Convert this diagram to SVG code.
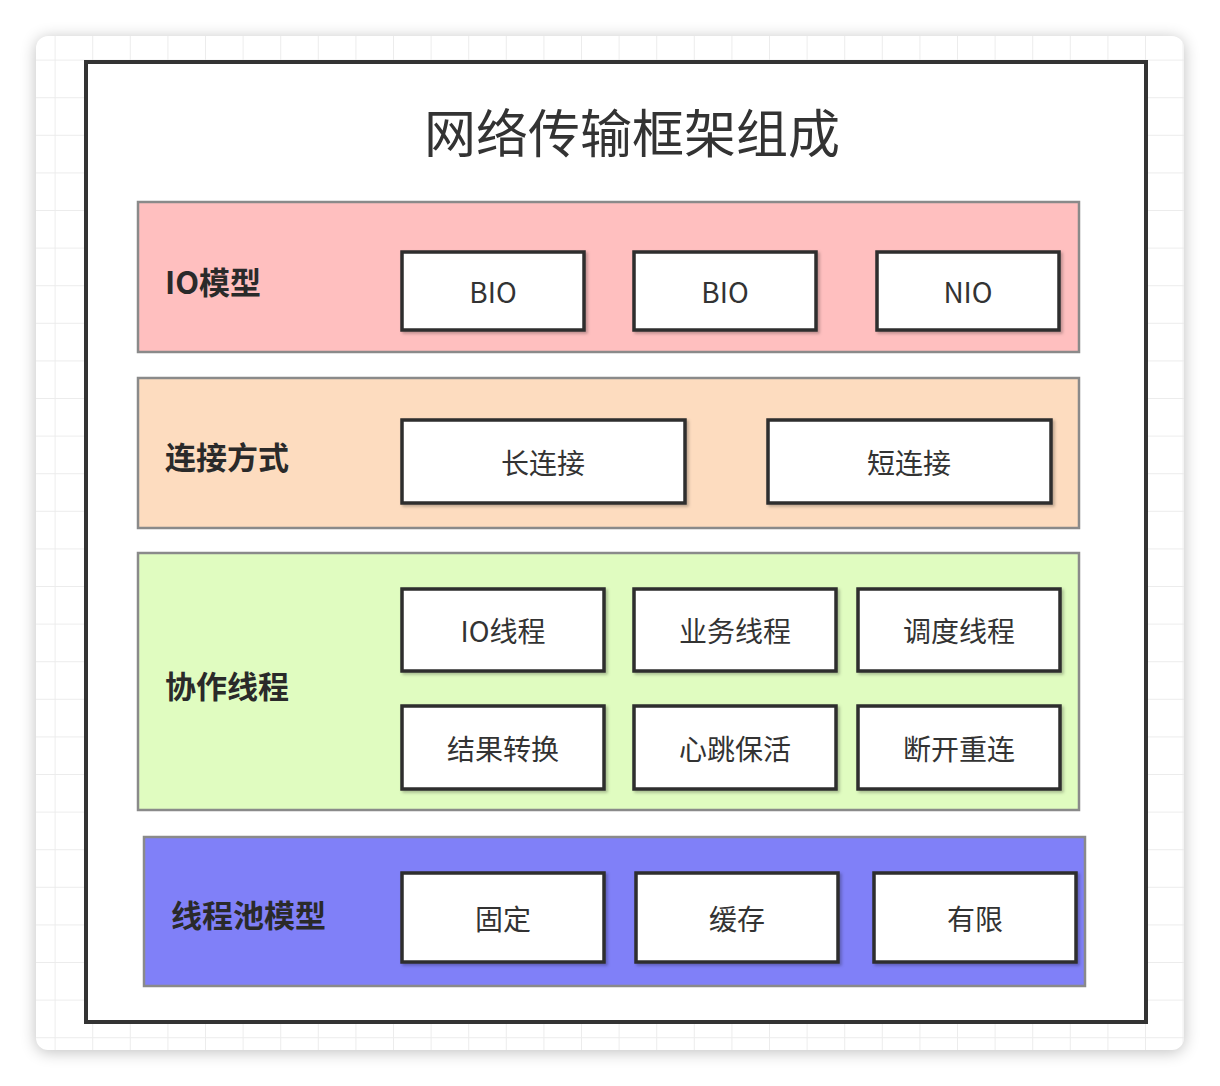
<svg xmlns="http://www.w3.org/2000/svg" width="1220" height="1086" viewBox="0 0 1220 1086">
<defs>
<pattern id="grid" x="18" y="23" width="37.6" height="37.6" patternUnits="userSpaceOnUse">
<path d="M37.6 0V37.6M0 37.6H37.6" fill="none" stroke="#ececec" stroke-width="2"/>
</pattern>
<filter id="sh" x="-10%" y="-10%" width="120%" height="120%"><feGaussianBlur stdDeviation="8"/></filter>
<filter id="bs" x="-5%" y="-5%" width="115%" height="120%"><feDropShadow dx="2" dy="2" stdDeviation="1.5" flood-color="#000" flood-opacity="0.25"/></filter>
<style>
.layer{stroke:#8a8a8a;stroke-width:2.5}
.box rect{fill:#fff;stroke:#2e2e2e;stroke-width:3.5;filter:url(#bs)}
.box text{font-family:"Noto Sans CJK SC","Noto Sans",sans-serif;font-size:28px;fill:#333;text-anchor:middle;dominant-baseline:central}
.lbl{font-family:"Noto Sans CJK SC","Noto Sans",sans-serif;font-size:31px;font-weight:bold;fill:#2a2a2a;dominant-baseline:central}
</style>
</defs>
<rect width="1220" height="1086" fill="#fff"/>
<rect x="36" y="38" width="1148" height="1014" rx="12" fill="#000" opacity="0.25" filter="url(#sh)"/>
<rect x="36" y="36" width="1148" height="1014" rx="12" fill="#fff"/>
<rect x="36" y="36" width="1148" height="1014" rx="12" fill="url(#grid)"/>
<g id="frame">
<rect x="86" y="62" width="1060" height="960" fill="#fff" stroke="#333" stroke-width="4"/>
<text x="632" y="130" font-family="Noto Sans CJK SC,sans-serif" font-size="52" fill="#333" text-anchor="middle" dominant-baseline="central">网络传输框架组成</text>
</g>
<g id="io">
<rect class="layer" x="138" y="202" width="941" height="150" fill="#ffbfbf"/>
<text class="lbl" x="165" y="280">IO模型</text>
<g class="box" id="bio1"><rect x="402" y="252" width="182" height="78"/><text x="493" y="291">BIO</text></g>
<g class="box" id="bio2"><rect x="634" y="252" width="182" height="78"/><text x="725" y="291">BIO</text></g>
<g class="box" id="nio"><rect x="877" y="252" width="182" height="78"/><text x="968" y="291">NIO</text></g>
</g>
<g id="conn">
<rect class="layer" x="138" y="378" width="941" height="150" fill="#fddcbf"/>
<text class="lbl" x="165" y="455">连接方式</text>
<g class="box" id="long"><rect x="402" y="420" width="283" height="83"/><text x="543" y="462">长连接</text></g>
<g class="box" id="short"><rect x="768" y="420" width="283" height="83"/><text x="909" y="462">短连接</text></g>
</g>
<g id="thread">
<rect class="layer" x="138" y="553" width="941" height="257" fill="#e0fcc0"/>
<text class="lbl" x="165" y="684">协作线程</text>
<g class="box" id="t1"><rect x="402" y="589" width="202" height="82"/><text x="503" y="630">IO线程</text></g>
<g class="box" id="t2"><rect x="634" y="589" width="202" height="82"/><text x="735" y="630">业务线程</text></g>
<g class="box" id="t3"><rect x="858" y="589" width="202" height="82"/><text x="959" y="630">调度线程</text></g>
<g class="box" id="t4"><rect x="402" y="706" width="202" height="83"/><text x="503" y="748">结果转换</text></g>
<g class="box" id="t5"><rect x="634" y="706" width="202" height="83"/><text x="735" y="748">心跳保活</text></g>
<g class="box" id="t6"><rect x="858" y="706" width="202" height="83"/><text x="959" y="748">断开重连</text></g>
</g>
<g id="pool">
<rect class="layer" x="144" y="837" width="941" height="149" fill="#8080f8"/>
<text class="lbl" x="171" y="913">线程池模型</text>
<g class="box" id="p1"><rect x="402" y="873" width="202" height="89"/><text x="503" y="918">固定</text></g>
<g class="box" id="p2"><rect x="636" y="873" width="202" height="89"/><text x="737" y="918">缓存</text></g>
<g class="box" id="p3"><rect x="874" y="873" width="202" height="89"/><text x="975" y="918">有限</text></g>
</g>
<g id="connectors"/>
</svg>
